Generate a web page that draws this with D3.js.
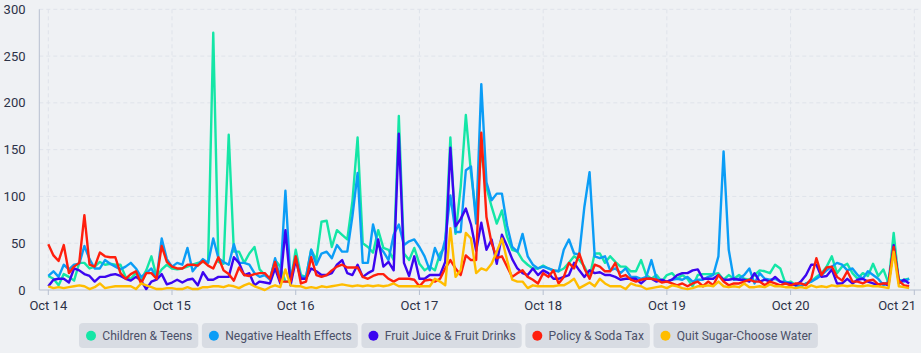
<!DOCTYPE html>
<html>
<head>
<meta charset="utf-8">
<script src="https://cdn.jsdelivr.net/npm/d3@7"></script>
<style>
  html, body { margin: 0; padding: 0; background: #eff1f4; }
  svg { display: block; font-family: Roboto, "Noto Sans", sans-serif; }
</style>
</head>
<body>
<div id="chart"></div>
<script>
// hourly values, Oct 14 00:00 -> Oct 20 23:00
const seriesNames = ["Children & Teens", "Negative Health Effects", "Fruit Juice & Fruit Drinks", "Policy & Soda Tax", "Quit Sugar-Choose Water"];
const seriesColors = ["#14e6a6", "#0b9df6", "#3c05f0", "#ff1f0d", "#ffbd00"];

const childrenTeens = [
  15,12,5,17,14,10,29,29,23,25, 30,27,28,27,27,14,12,18,11,21,
  36,14,22,27,23,22,23,25,27,29, 30,29,275,30,28,166,41,41,29,39,
  46,22,16,12,32,25,9,9,43,16, 14,43,32,73,74,46,64,59,54,95,
  163,50,46,40,64,45,43,32,186,39, 32,45,28,21,25,21,39,46,163,60,
  110,187,125,80,150,110,89,71,85,57, 43,41,32,27,23,23,26,23,21,20,
  23,29,36,32,25,14,39,39,29,36, 30,25,25,20,20,32,16,12,16,9,
  16,18,12,16,12,4,16,17,17,17, 18,11,16,12,16,12,11,16,21,20,
  18,27,23,7,9,5,4,7,9,14, 18,25,36,18,25,28,18,12,18,15,
  28,15,22,7,61,9,11,12
];
const negativeHealth = [
  15,20,14,27,22,27,28,47,33,23, 23,32,28,25,22,25,29,23,14,18,
  23,12,55,33,25,29,27,45,20,27, 33,29,55,34,30,27,49,29,29,27,
  18,14,16,11,34,12,106,9,36,14, 14,43,27,39,41,34,48,41,41,79,
  125,29,29,70,48,41,32,59,70,48, 52,54,46,36,21,45,32,54,101,62,
  62,128,132,71,220,115,96,103,103,69, 46,41,60,36,27,23,25,23,21,20,
  43,54,39,38,89,126,36,34,36,21, 23,18,23,14,14,12,14,32,12,9,
  9,11,12,11,14,9,11,11,14,16, 36,148,43,11,12,16,23,7,18,12,
  11,12,9,9,7,5,4,7,9,12, 16,21,25,29,27,21,23,16,12,20,
  16,12,5,9,46,11,9,12
];
const fruitJuice = [
  4,11,12,12,8,23,21,17,15,9, 14,14,16,17,15,12,10,14,10,1,
  9,11,17,6,8,11,8,11,12,5, 19,11,11,14,14,14,35,29,16,18,
  5,9,8,7,23,7,64,5,32,12, 12,23,20,16,16,18,27,32,18,16,
  27,14,18,21,54,25,30,21,167,29, 15,36,12,12,16,16,16,30,152,68,
  76,87,70,42,72,43,54,28,59,47, 33,23,18,16,23,16,21,18,12,12,
  14,16,29,21,14,21,18,19,16,16, 14,11,12,12,12,7,12,12,9,11,
  9,11,16,18,18,21,22,12,12,12, 16,11,11,12,11,11,9,18,9,11,
  9,14,9,7,7,5,9,16,27,27, 14,15,22,7,7,12,7,11,12,9,
  7,5,7,5,48,7,11,7
];
const policySodaTax = [
  49,37,31,48,18,25,29,80,27,25, 40,36,35,35,18,12,17,20,7,18,
  18,12,47,30,25,23,23,27,27,26, 31,26,23,35,21,17,10,24,16,15,
  17,18,18,12,30,9,9,9,36,7, 9,35,16,14,16,21,25,27,24,24,
  24,14,12,15,17,17,12,9,12,12, 12,11,4,10,11,9,12,23,32,23,
  16,37,32,32,168,78,50,34,36,25, 14,18,21,14,11,7,18,14,21,7,
  14,29,23,39,23,12,27,25,20,20, 29,14,16,11,9,11,12,12,11,8,
  9,7,5,7,4,7,9,4,9,5, 16,9,5,7,7,9,11,9,9,5,
  9,7,5,7,5,7,7,5,12,34, 16,24,25,14,10,20,9,9,7,10,
  11,6,7,7,46,10,5,4
];
const quitSugar = [
  4,2,3,2,3,4,5,4,1,3, 7,2,3,4,4,4,4,1,7,5,
  3,1,1,2,2,1,1,3,1,1, 3,3,4,4,3,5,4,2,5,7,
  4,2,0,3,5,3,22,5,4,4, 2,3,2,4,3,4,5,6,5,4,
  5,4,5,4,5,4,5,7,4,4, 4,4,4,4,4,12,9,5,66,14,
  21,61,55,18,23,21,28,41,55,32, 11,9,9,2,5,4,4,4,4,5,
  5,8,12,2,5,8,4,12,7,4, 4,4,1,7,5,4,1,2,3,4,
  2,5,4,2,1,2,4,4,5,4, 9,4,3,4,3,7,3,3,4,3,
  6,4,4,3,3,2,3,2,5,3, 4,3,5,4,5,4,5,4,4,5,
  4,4,3,2,41,4,3,2
];
const yTicks = [0, 50, 100, 150, 200, 250, 300];
const xTickLabels = ["Oct 14", "Oct 15", "Oct 16", "Oct 17", "Oct 18", "Oct 19", "Oct 20", "Oct 21"];
const startTime = new Date(2023, 9, 14, 0, 0);

const allSeries = [childrenTeens, negativeHealth, fruitJuice, policySodaTax, quitSugar];

const W = 921, H = 353;
const svg = d3.select("#chart").append("svg")
  .attr("width", W)
  .attr("height", H);

const hourMs = 3600 * 1000;
const tickDates = xTickLabels.map((d, i) => new Date(startTime.getTime() + i * 24 * hourMs));

const x = d3.scaleTime()
  .domain([tickDates[0], tickDates[tickDates.length - 1]])
  .range([48.3, 914.3]);
const y = d3.scaleLinear()
  .domain([0, 300])
  .range([290, 9.3]);

const plotLeft = 39.3, plotRight = 921, plotTop = 9.3, plotBottom = 290;

// grid
svg.append("g")
  .selectAll("line")
  .data(yTicks.slice(1))
  .join("line")
  .attr("x1", plotLeft).attr("x2", plotRight)
  .attr("y1", d => y(d)).attr("y2", d => y(d))
  .attr("stroke", "#dfe3ea")
  .attr("stroke-width", 1)
  .attr("stroke-dasharray", "4,3");

svg.append("g")
  .selectAll("line")
  .data(tickDates)
  .join("line")
  .attr("x1", d => x(d)).attr("x2", d => x(d))
  .attr("y1", plotTop).attr("y2", plotBottom)
  .attr("stroke", "#dfe3ea")
  .attr("stroke-width", 1)
  .attr("stroke-dasharray", "4,3");

// axes
svg.append("line")
  .attr("x1", plotLeft).attr("x2", plotLeft)
  .attr("y1", plotTop).attr("y2", plotBottom)
  .attr("stroke", "#b7c0d0").attr("stroke-width", 1);
svg.append("line")
  .attr("x1", plotLeft).attr("x2", plotRight)
  .attr("y1", plotBottom).attr("y2", plotBottom)
  .attr("stroke", "#b7c0d0").attr("stroke-width", 1);

svg.append("g")
  .selectAll("line")
  .data(tickDates)
  .join("line")
  .attr("x1", d => x(d)).attr("x2", d => x(d))
  .attr("y1", plotBottom).attr("y2", plotBottom + 5)
  .attr("stroke", "#b7c0d0");

svg.append("g")
  .selectAll("text")
  .data(yTicks)
  .join("text")
  .attr("x", 25.5)
  .attr("y", d => y(d))
  .attr("dy", "0.35em")
  .attr("text-anchor", "end")
  .style("font-size", "13px")
  .style("fill", "#2c3247")
  .text(d => d);

// last label is pulled in so it stays inside the page
svg.append("g")
  .selectAll("text")
  .data(tickDates)
  .join("text")
  .attr("x", (d, i) => i === tickDates.length - 1 ? 916 : x(d))
  .attr("y", 305.5)
  .attr("dy", "0.35em")
  .attr("text-anchor", (d, i) => i === tickDates.length - 1 ? "end" : "middle")
  .style("font-size", "13px")
  .style("fill", "#2c3247")
  .text((d, i) => xTickLabels[i]);

// lines
const line = d3.line()
  .x((d, i) => x(new Date(startTime.getTime() + i * hourMs)))
  .y(d => y(d));

svg.append("g")
  .selectAll("path")
  .data(allSeries)
  .join("path")
  .attr("d", d => line(d))
  .attr("fill", "none")
  .attr("stroke", (d, i) => seriesColors[i])
  .attr("stroke-width", 2.4)
  .attr("stroke-linejoin", "round");

// legend
const legend = svg.append("g");
let lx = 79;
seriesNames.forEach((name, i) => {
  const g = legend.append("g").attr("transform", `translate(${lx},323)`);
  const rect = g.append("rect")
    .attr("height", 25)
    .attr("rx", 4)
    .attr("fill", "#d8dce3");
  g.append("circle")
    .attr("cx", 12).attr("cy", 12.7).attr("r", 5)
    .attr("fill", seriesColors[i]);
  const t = g.append("text")
    .attr("x", 23.3).attr("y", 12.7)
    .attr("dy", "0.35em")
    .style("font-size", "12.1px")
    .style("fill", "#4b5068")
    .text(name);
  const w = 23.3 + t.node().getComputedTextLength() + 6;
  rect.attr("width", w);
  lx += w + 3.6;
});
</script>
</body>
</html>
